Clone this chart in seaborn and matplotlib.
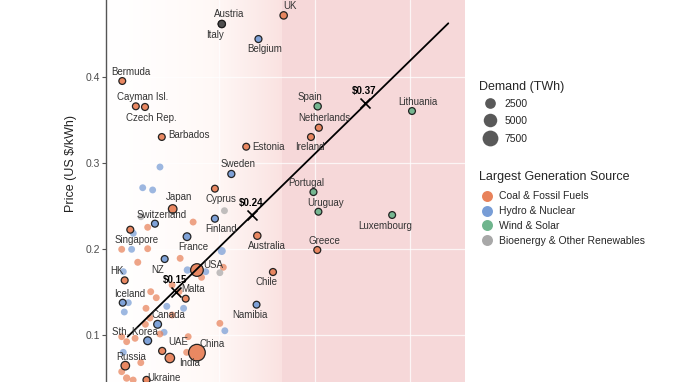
import numpy as np
import pandas as pd
import matplotlib
matplotlib.use("Agg")
import matplotlib.pyplot as plt
from matplotlib.lines import Line2D
from matplotlib.colors import LinearSegmentedColormap
import seaborn as sns

# ---------------- data ----------------
FOS, HYD, WND, BIO, UNK = ("Coal & Fossil Fuels", "Hydro & Nuclear", "Wind & Solar",
                           "Bioenergy & Other Renewables", "Unknown")

names = ["UK", "Austria", "Italy", "Belgium", "Bermuda", "Cayman Isl.", "Czech Rep.",
         "Barbados", "Estonia", "Sweden", "Spain", "Netherlands", "Ireland", "Portugal",
         "Uruguay", "Luxembourg", "Lithuania", "Greece", "Cyprus", "Japan", "Switzerland",
         "Finland", "Singapore", "France", "Australia", "NZ", "USA", "HK", "Chile", "Malta",
         "Iceland", "Namibia", "Canada", "Sth. Korea", "UAE", "China", "India", "Russia",
         "Ukraine"]
x_vals = [41.8, 25.6, 25.6, 35.2, -0.45, 3.1, 5.5, 9.9, 32.0, 28.1, 50.7, 51.0, 48.95,
          49.6, 50.9, 70.2, 75.4, 50.6, 23.8, 12.75, 8.1, 23.8, 1.65, 16.5, 34.9, 10.65,
          19.1, 0.18, 39.0, 16.15, -0.34, 34.7, 8.8, 6.2, 10.0, 19.1, 12.0, 0.34, 5.9]
prices = [0.472, 0.462, 0.462, 0.4445, 0.3957, 0.3663, 0.3655, 0.3306, 0.3193, 0.2876,
          0.3663, 0.3414, 0.3306, 0.2666, 0.2437, 0.2399, 0.3608, 0.1992, 0.2705, 0.2469,
          0.2298, 0.2356, 0.2228, 0.2147, 0.2158, 0.1887, 0.1759, 0.1639, 0.1736, 0.1426,
          0.1379, 0.1356, 0.1128, 0.0937, 0.0818, 0.0798, 0.0736, 0.0647, 0.0481]
demand = [300, 70, 300, 80, 1, 1, 65, 1, 8, 135, 250, 115, 30, 50, 12, 6, 12, 55, 5,
          1000, 60, 85, 55, 470, 260, 43, 4200, 45, 80, 3, 20, 4, 550, 580, 140, 8500,
          1600, 1000, 130]
source = [FOS, UNK, UNK, HYD, FOS, FOS, FOS, FOS, FOS, HYD, WND, FOS, FOS, WND, WND, WND,
          WND, FOS, FOS, FOS, HYD, HYD, FOS, HYD, FOS, HYD, FOS, FOS, FOS, FOS, HYD, HYD,
          HYD, HYD, FOS, FOS, FOS, FOS, FOS]

u_x = [9.42, 4.9, 7.5, 26.3, 18.1, 6.2, 2.43, -0.6, 2.0, 6.2, 25.6, 14.7, 4.45, 3.6,
       16.6, 21.4, 26.0, 25.1, 20.3, 12.6, -0.18, 7.0, 8.45, 14.4, 1.13, 0.08, 5.76, 11.2,
       15.6, 12.6, 25.1, 26.4, 5.6, 6.8, 10.5, 9.4, -0.6, 0.7, 2.9, 16.8, 16.4, -0.18,
       4.4, -0.6, 0.7, 2.4]
u_price = [0.2957, 0.2716, 0.2690, 0.2449, 0.2317, 0.2256, 0.2186, 0.2000, 0.2000, 0.2007,
           0.1980, 0.1895, 0.2379, 0.1849, 0.1759, 0.1740, 0.1791, 0.1728, 0.1674, 0.1585,
           0.1740, 0.1507, 0.1437, 0.1507, 0.1379, 0.1271, 0.1314, 0.1337, 0.1314, 0.1236,
           0.1139, 0.1053, 0.1128, 0.1201, 0.1035, 0.1015, 0.0984, 0.0926, 0.0965, 0.0984,
           0.0802, 0.0802, 0.0682, 0.0577, 0.0503, 0.0480]
u_demand = [40, 40, 40, 40, 40, 40, 40, 40, 40, 40, 650, 40, 40, 100, 300, 40, 40, 40, 40,
            20, 40, 40, 40, 40, 40, 40, 40, 60, 60, 20, 40, 40, 40, 40, 40, 40, 40, 40,
            40, 40, 40, 40, 40, 40, 300, 40]
u_source = [HYD, HYD, HYD, BIO, FOS, FOS, HYD, FOS, HYD, FOS, HYD, FOS, BIO, FOS, HYD, HYD,
            FOS, BIO, FOS, FOS, HYD, FOS, FOS, FOS, HYD, HYD, FOS, HYD, HYD, FOS, FOS, HYD,
            FOS, FOS, HYD, FOS, FOS, FOS, FOS, FOS, FOS, HYD, FOS, FOS, FOS, FOS]

trend_x = [0.97, 84.9]
trend_price = [0.0984, 0.4628]
mark_x = [13.5, 33.6, 63.1]
mark_price = [0.15, 0.24, 0.37]
mark_labels = ["$0.15", "$0.24", "$0.37"]

x_range = [-4.71, 89.27]
pink_start = 41.4
legend_demand = [2500, 5000, 7500]
legend_sources = [FOS, HYD, WND, BIO]

# ---------------- layout / style ----------------
label_offsets = [(4.5, 7), (5, 7), (-5, -7.7), (4.8, -7.4), (6.3, 6.5), (4.8, 6.7),
                 (4.8, -7.7), (4.3, 1.7), (4.3, 0), (4.8, 7), (-5.3, 6.7), (4.3, 6.8),
                 (-0.7, -7.2), (-5.3, 6.7), (4.8, 6.5), (-5.3, -7.9), (4.5, 6.7),
                 (4.8, 6.3), (4.3, -7.4), (4.8, 8.4), (4.8, 6.5), (4.5, -7.6), (4.8, -7.6),
                 (4.8, -7.6), (7, -7.4), (-4.8, -7.9), (11.7, 3.6), (-5.3, 6.7), (-5, -7.2),
                 (5, 6.8), (4.8, 6.5), (-4.8, -7.6), (7.6, 6.7), (-9.1, 6.5), (11.5, 6.3),
                 (10.6, 6.5), (14.4, -3.8), (4.6, 6.5), (12.5, 1.4)]
left_aligned = {"Barbados", "Estonia"}

pal = {FOS: "#E8825A", HYD: "#789DD6", WND: "#6FB58D", BIO: "#A8A8A8", UNK: "#4f4f4f"}
SIZES = (24, 165)
SIZE_NORM = (0, 10000)
YLIM = (0.0457, 0.4899)

sns.set_style("white")
plt.rcParams["font.family"] = ["Liberation Sans", "DejaVu Sans"]

fig = plt.figure(figsize=(6.8, 3.82), dpi=100)
ax = fig.add_axes([106 / 680, 0.0, 359 / 680, 1.0])
ax.set_xlim(*x_range)
ax.set_ylim(*YLIM)

# background: gradient from white to light pink, then solid pink
grad_cmap = LinearSegmentedColormap.from_list("bg", ["#FFFFFF", "#FFF8F6", "#FAE2E1"])
grad = np.linspace(0, 1, 256)[None, :] ** 1.4
ax.imshow(grad, cmap=grad_cmap, extent=[x_range[0], pink_start, YLIM[0], YLIM[1]],
          aspect="auto", zorder=0, interpolation="bicubic")
ax.axvspan(pink_start, x_range[1], color="#F6D8D9", lw=0, zorder=0)
ax.set_xlim(*x_range)
ax.set_ylim(*YLIM)
for yv in [0.1, 0.2, 0.3, 0.4]:
    ax.axhline(yv, color="white", lw=0.9, alpha=0.75, zorder=0.5)
for xv in [0, 25, 50, 75]:
    ax.axvline(xv, color="white", lw=0.9, alpha=0.75, zorder=0.5)

df_u = pd.DataFrame(dict(x=u_x, price=u_price, demand=u_demand, source=u_source))
df_l = pd.DataFrame(dict(name=names, x=x_vals, price=prices, demand=demand, source=source))

sns.scatterplot(data=df_u, x="x", y="price", hue="source", size="demand", palette=pal,
                sizes=SIZES, size_norm=SIZE_NORM, alpha=0.72, linewidth=0,
                legend=False, ax=ax, zorder=3)
sns.scatterplot(data=df_l, x="x", y="price", hue="source", size="demand", palette=pal,
                sizes=SIZES, size_norm=SIZE_NORM, alpha=0.95, edgecolor="#1a1a1a",
                linewidth=0.9, legend=False, ax=ax, zorder=4)
sns.lineplot(x=trend_x, y=trend_price, color="black", lw=1.3, ax=ax, zorder=5)
ax.scatter(mark_x, mark_price, marker="x", s=52, color="black", linewidths=1.2, zorder=6)
for mx, mp, ml in zip(mark_x, mark_price, mark_labels):
    ax.annotate(ml, (mx, mp), xytext=(-0.5, 5), textcoords="offset points",
                ha="center", va="bottom", fontsize=7, fontweight="bold", color="black",
                zorder=7)

for nm, xv, pv, (dx, dy) in zip(names, x_vals, prices, label_offsets):
    ha = "left" if nm in left_aligned else "center"
    ax.annotate(nm, (xv, pv), xytext=(dx, dy), textcoords="offset points", ha=ha,
                va="center", fontsize=7, color="#333333", zorder=8)

ax.set_xticks([])
ax.set_xlabel("")
ax.set_yticks([0.1, 0.2, 0.3, 0.4])
ax.set_yticklabels(["0.1", "0.2", "0.3", "0.4"])
ax.tick_params(axis="y", length=3, width=0.8, color="#555555", labelcolor="#4d4d4d",
               labelsize=7.5, pad=1.5, left=True)
for s in ["top", "right", "bottom"]:
    ax.spines[s].set_visible(False)
ax.spines["left"].set_color("#555555")
ax.spines["left"].set_linewidth(1.0)
ax.set_ylabel("Price (US $/kWh)", fontsize=9, color="#222222")
ax.yaxis.set_label_coords(-0.08, 0.573)


def size_to_ms(d):
    s = SIZES[0] + (SIZES[1] - SIZES[0]) * (d - SIZE_NORM[0]) / (SIZE_NORM[1] - SIZE_NORM[0])
    return np.sqrt(s)


h1 = [Line2D([], [], ls="none", marker="o", markersize=size_to_ms(d),
             markerfacecolor="#595959", markeredgecolor="none") for d in legend_demand]
leg1 = ax.legend(h1, [str(d) for d in legend_demand], title="Demand (TWh)",
                 loc="upper left", bbox_to_anchor=(479 / 680, 1 - 81 / 382),
                 bbox_transform=fig.transFigure, frameon=False, fontsize=7.5,
                 title_fontsize=9, handlelength=2.1, handletextpad=0.35,
                 labelspacing=0.72, borderpad=0, borderaxespad=0, alignment="left")
leg1._legend_box.sep = 4
ax.add_artist(leg1)
h2 = [Line2D([], [], ls="none", marker="o", markersize=7.9, markerfacecolor=pal[c],
             markeredgecolor="none") for c in legend_sources]
leg2 = ax.legend(h2, legend_sources, title="Largest Generation Source",
                 loc="upper left", bbox_to_anchor=(479 / 680, 1 - 171 / 382),
                 bbox_transform=fig.transFigure, frameon=False, fontsize=7.5,
                 title_fontsize=9, handlelength=1.55, handletextpad=0.38,
                 labelspacing=0.47, borderpad=0, borderaxespad=0, alignment="left")
leg2._legend_box.sep = 6

fig.savefig("out.png", dpi=100)
